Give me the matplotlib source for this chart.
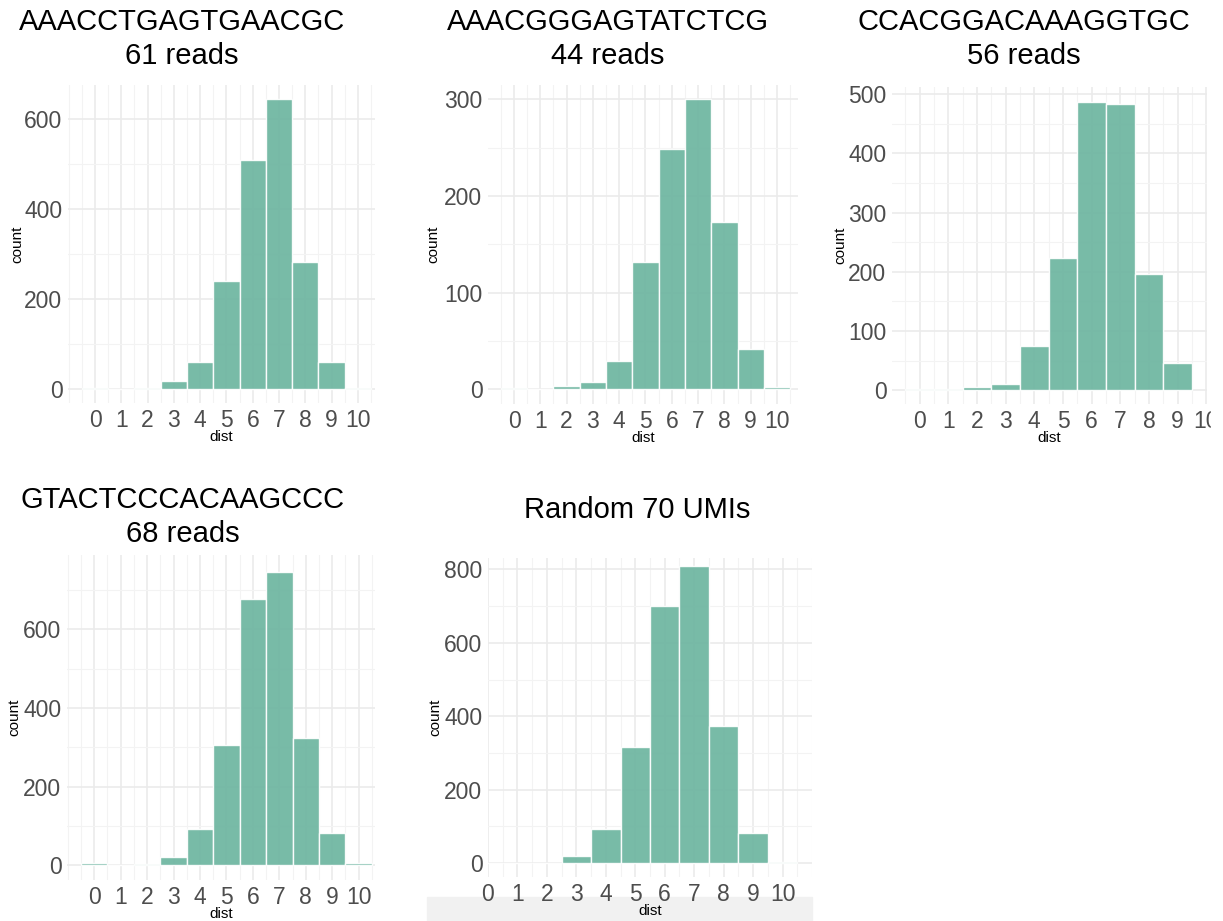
import matplotlib
matplotlib.use("Agg")
import matplotlib.pyplot as plt
from matplotlib.patches import Rectangle
from matplotlib.ticker import MultipleLocator, FixedLocator

# pairwise edit distance histograms for reads sharing a cell barcode
dist = list(range(11))

umi_1 = "AAACCTGAGTGAACGC"
reads_1 = 61
counts_1 = [3, 0, 3, 19, 61, 241, 509, 644, 282, 60, 4]

umi_2 = "AAACGGGAGTATCTCG"
reads_2 = 44
counts_2 = [2, 0, 4, 8, 29, 132, 249, 300, 173, 42, 3]

umi_3 = "CCACGGACAAAGGTGC"
reads_3 = 56
counts_3 = [2, 2, 5, 11, 75, 223, 487, 483, 197, 47]

umi_4 = "GTACTCCCACAAGCCC"
reads_4 = 68
counts_4 = [6, 0, 4, 21, 93, 305, 677, 747, 325, 83, 7]

random_n = 70
counts_5 = [0, 0, 0, 19, 94, 316, 701, 810, 374, 82, 4]

W, H = 1223, 921
fig = plt.figure(figsize=(W / 100, H / 100), dpi=100)
plt.rcParams['font.family'] = ['Liberation Sans', 'DejaVu Sans']

FILL = '#6db5a0'
TICK_COL = '#4d4d4d'


def fig_rect(l, t, r, b):
    return [l / W, 1 - b / H, (r - l) / W, (b - t) / H]


def panel(box, counts, xlim, ylim, ystep, title, tx, ty, count_x):
    l, t, r, b = box
    ax = fig.add_axes(fig_rect(l, t, r, b))
    ax.bar(dist[:len(counts)], counts, width=1, color=FILL, alpha=0.92,
           edgecolor='white', linewidth=1.0, zorder=2)
    ax.set_xlim(*xlim)
    ax.set_ylim(*ylim)
    ax.xaxis.set_major_locator(FixedLocator(dist))
    ax.xaxis.set_minor_locator(MultipleLocator(0.5))
    ax.yaxis.set_major_locator(MultipleLocator(ystep))
    ax.yaxis.set_minor_locator(MultipleLocator(ystep / 2))
    ax.grid(which='major', color='#ebebeb', lw=1.2, zorder=0)
    ax.grid(which='minor', color='#f3f3f3', lw=0.8, zorder=0)
    ax.set_axisbelow(True)
    for s in ax.spines.values():
        s.set_visible(False)
    ax.tick_params(which='both', length=0, labelsize=16.5, labelcolor=TICK_COL, pad=4)
    ax.set_xlabel('dist', fontsize=11, va='center')
    ax.set_ylabel('count', fontsize=11, va='center')
    ax.xaxis.set_label_coords(0.5, -34 / (b - t))
    ax.yaxis.set_label_coords(-(l - count_x) / (r - l), 0.5)
    fig.text(tx / W, 1 - ty / H, title, ha='center', va='center',
             fontsize=21, linespacing=1.25, color='black')
    return ax


p1 = panel((68, 85, 375, 403), counts_1, (-1.03, 10.65), (-30, 675), 200,
           f"{umi_1}\n{reads_1} reads", 182, 39, 17)
p2 = panel((488, 85, 798, 404), counts_2, (-0.99, 10.8), (-15, 315), 100,
           f"{umi_2}\n{reads_2} reads", 608, 39, 433)
p3 = panel((892, 87, 1207, 404), counts_3, (-0.96, 10.02), (-23, 512), 100,
           f"{umi_3}\n{reads_3} reads", 1024, 39, 840)
p4 = panel((67, 555, 375, 880), counts_4, (-1.03, 10.62), (-37, 789), 200,
           f"{umi_4}\n{reads_4} reads", 183, 517, 14)
p5 = panel((488, 558, 812, 877), counts_5, (0, 11), (-38, 831), 200,
           f"Random {random_n} UMIs", 637, 510, 435)

# grey strip under the last panel
fig.patches.append(Rectangle((427 / W, 0), (812 - 427) / W, (921 - 897) / H,
                             transform=fig.transFigure, color='#f1f1f1', zorder=-1))
# right edge trimmed
fig.patches.append(Rectangle((1211 / W, 0), (W - 1211) / W, 1,
                             transform=fig.transFigure, color='white', zorder=10))

fig.savefig('out.png', dpi=100)
